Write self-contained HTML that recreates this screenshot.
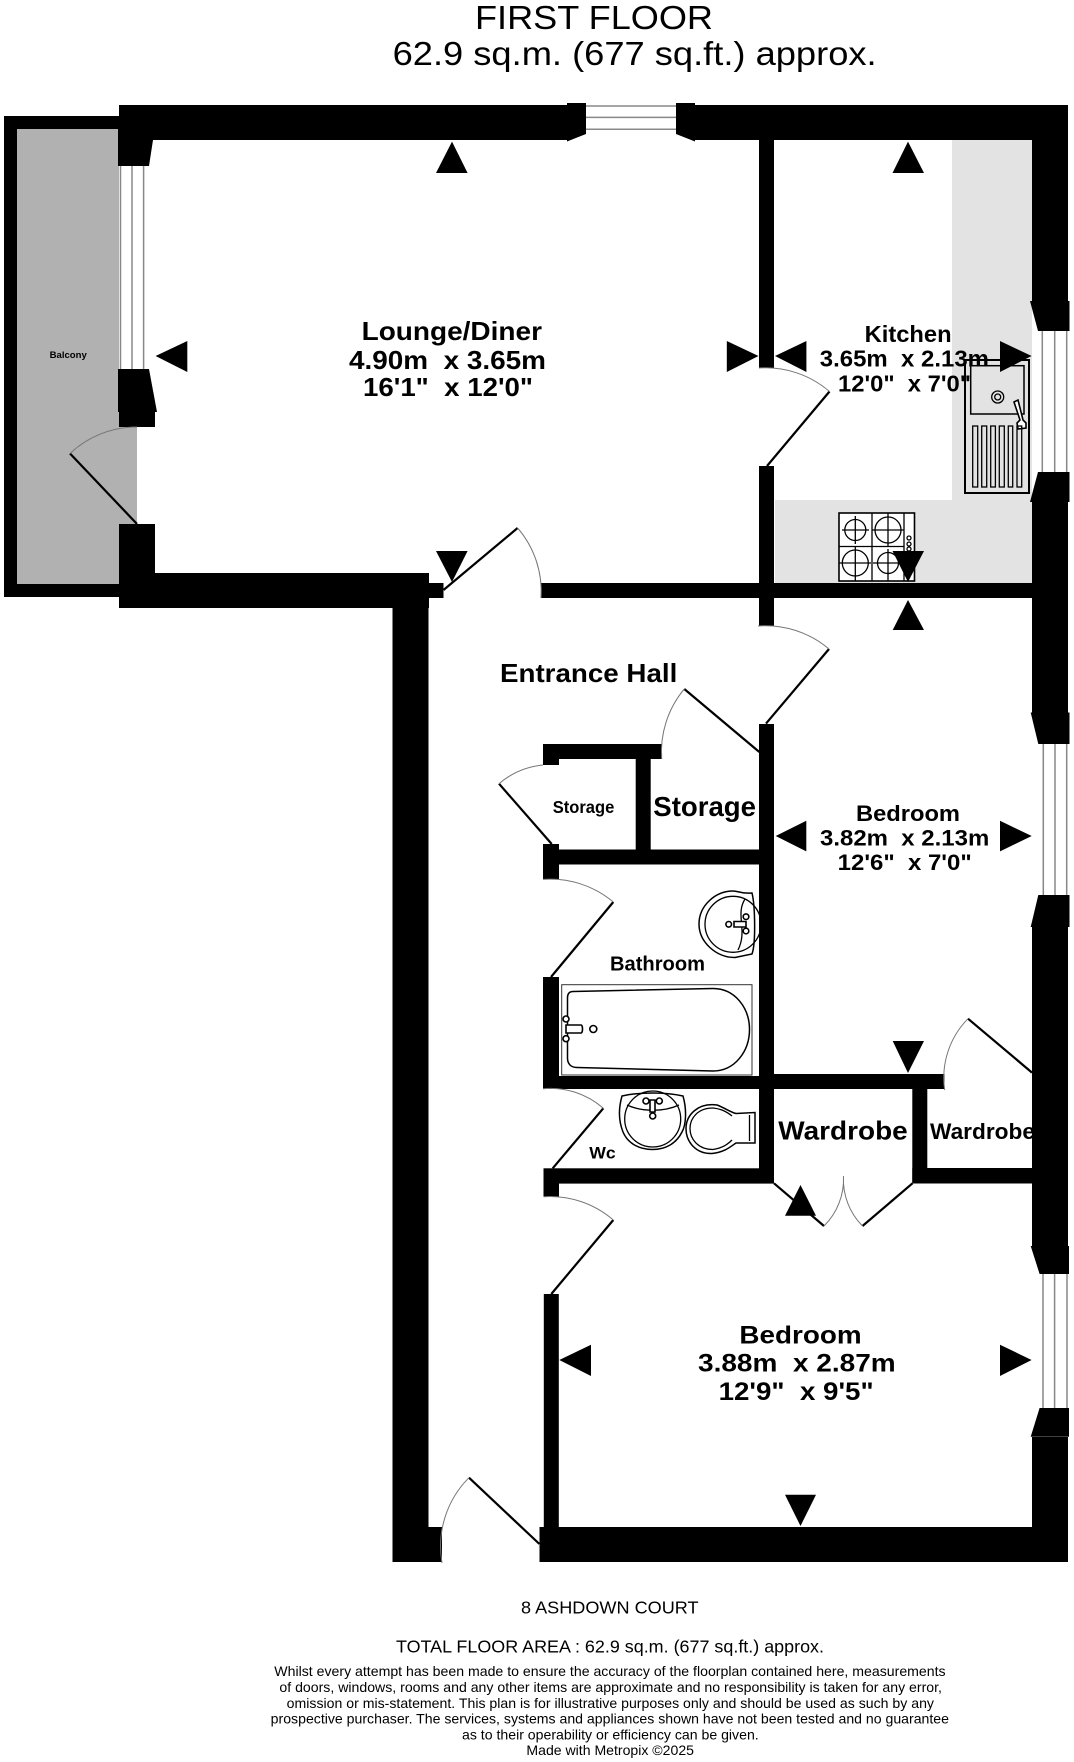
<!DOCTYPE html>
<html><head><meta charset="utf-8"><style>
html,body{margin:0;padding:0;background:#fff}
svg{display:block}
text{font-family:"Liberation Sans",sans-serif;fill:#000}
.b{font-weight:bold}
.arc{fill:none;stroke:#777;stroke-width:1}
.leaf{stroke:#000;stroke-width:2.200;fill:none}
.win{stroke:#888;stroke-width:1.500;fill:none}
.fx{fill:#fff;stroke:#000;stroke-width:1.600}
.fxn{fill:none;stroke:#000;stroke-width:1.300}
</style></head><body>
<svg width="1074" height="1762" viewBox="0 0 1074 1762" xmlns="http://www.w3.org/2000/svg">
<rect width="1074" height="1762" fill="#fff"/>

<!-- fills -->
<rect x="17" y="129" width="102" height="455" fill="#b1b1b1"/>
<rect x="119" y="427" width="18" height="97" fill="#b1b1b1"/>
<path d="M952 140H1032V583H775V500H952Z" fill="#e3e3e3"/>
<rect x="1032" y="331" width="36" height="141" fill="#fff"/>

<!-- text under walls -->
<text class="b" x="930" y="1139" font-size="22" textLength="105" lengthAdjust="spacingAndGlyphs">Wardrobe</text>

<!-- walls -->
<g fill="#000">
<path d="M4 116H119V129H17V584H119V597H4Z"/>
<rect x="119" y="105" width="448" height="35"/>
<rect x="695" y="105" width="373" height="35"/>
<rect x="1032" y="105" width="36" height="196"/>
<rect x="1032" y="502" width="36" height="211"/>
<rect x="1032" y="927" width="36" height="319"/>
<rect x="1032" y="1437" width="36" height="125"/>
<rect x="759" y="140" width="15" height="228"/>
<rect x="759" y="466" width="15" height="160"/>
<rect x="759" y="724" width="15" height="459"/>
<rect x="541" y="583" width="491" height="15"/>
<rect x="119" y="524" width="36" height="84"/>
<rect x="155" y="573" width="274" height="35"/>
<rect x="428" y="583" width="15.500" height="15"/>
<rect x="392.500" y="608" width="36" height="954"/>
<rect x="428" y="1527" width="14" height="35"/>
<rect x="539.500" y="1527" width="528" height="35"/>
<rect x="119" y="412" width="36" height="15"/>
<!-- storage -->
<rect x="543" y="744" width="119" height="15"/>
<rect x="543" y="744" width="16" height="21"/>
<rect x="543" y="844" width="16" height="35.500"/>
<rect x="559" y="849.500" width="200" height="15"/>
<rect x="635.700" y="759" width="15" height="91"/>
<!-- bath / wc walls -->
<rect x="543" y="977" width="16" height="112"/>
<rect x="543" y="1076" width="216" height="13"/>
<rect x="759" y="1074" width="185.500" height="15"/>
<rect x="912.300" y="1089" width="15" height="94"/>
<rect x="912.300" y="1168" width="120" height="15.500"/>
<rect x="543.500" y="1168.300" width="230.500" height="15.300"/>
<rect x="543.500" y="1183" width="15.500" height="13.700"/>
<rect x="543.800" y="1294" width="15" height="240"/>
<!-- window jambs -->
<path d="M118 120L153 140L149 166H118Z"/>
<path d="M118 369H149L157 412H118Z"/>
<path d="M567 103H586V134L567 141.500Z"/>
<path d="M676 103H695V141.500L676 134Z"/>
<path d="M1030 301H1069.500V331H1038Z"/>
<path d="M1038 472H1069.500V502H1030Z"/>
<path d="M1030.700 712.500H1069.500V744H1038.300Z"/>
<path d="M1038.300 895H1069.500V927H1030.700Z"/>
<path d="M1030.700 1246H1069V1274H1039.600Z"/>
<path d="M1039.600 1408H1069V1436.700H1030.700Z"/>
</g>

<!-- windows -->
<g class="win">
<path d="M120.500 166V369M132 166V369M143.600 166V369"/>
<path d="M586 106H676M586 117.400H676M586 129.300H676"/>
<path d="M1042.300 331V472M1054.700 331V472M1066.700 331V472"/>
<path d="M1043.300 744V895M1055 744V895M1066.700 744V895"/>
<path d="M1043 1274V1408M1054.600 1274V1408M1067 1274V1408"/>
</g>

<!-- doors -->
<g>
<path class="leaf" d="M137 524L70 453.500"/><path class="arc" d="M70 453.500A97 97 0 0 1 137 427"/>
<path class="leaf" d="M443.500 590L517.600 528"/><path class="arc" d="M517.600 528A97 97 0 0 1 541 598"/>
<path class="leaf" d="M767 466L829.500 391.500"/><path class="arc" d="M829.500 391.500A98 98 0 0 0 759 368"/>
<path class="leaf" d="M766 723.600L829 649"/><path class="arc" d="M829 649A98 98 0 0 0 758 626"/>
<path class="leaf" d="M759.300 752L684.300 689"/><path class="arc" d="M684.300 689A98 98 0 0 0 661.700 759"/>
<path class="leaf" d="M551.700 844L499 783.700"/><path class="arc" d="M499 783.700A80 80 0 0 1 543 765"/>
<path class="leaf" d="M551 977L613.300 902"/><path class="arc" d="M613.300 902A98 98 0 0 0 543 879.400"/>
<path class="leaf" d="M552.700 1168.300L603.300 1108.300"/><path class="arc" d="M603.300 1108.300A80 80 0 0 0 543 1088.700"/>
<path class="leaf" d="M551.300 1294L613.300 1220"/><path class="arc" d="M613.300 1220A97 97 0 0 0 543.800 1196.700"/>
<path class="leaf" d="M539.400 1544L469 1477.700"/><path class="arc" d="M469 1477.700A97 97 0 0 0 442 1563"/>
<path class="leaf" d="M1032 1072.600L968 1018.700"/><path class="arc" d="M968 1018.700A84 84 0 0 0 944.700 1090"/>
<path class="leaf" d="M774 1183.300L824 1226"/><path class="arc" d="M824 1226A66 66 0 0 0 843.500 1176"/>
<path class="leaf" d="M912.500 1183.300L862.500 1226"/><path class="arc" d="M862.500 1226A66 66 0 0 1 843.500 1176"/>
</g>

<!-- kitchen fixtures -->
<rect x="839" y="513" width="75.500" height="68" fill="#fff" stroke="#000" stroke-width="1.600"/>
<g class="fxn">
<path d="M872 513V581M904 513V581M839 546.500H904"/>
<circle cx="855.300" cy="530" r="10.500"/><circle cx="888" cy="530" r="13"/>
<circle cx="855.300" cy="563" r="13"/><circle cx="888" cy="563" r="10.500"/>
<path d="M855.300 516V544M842 530H869M888 513V546M872 530H904M855.300 547V581M839 563H871M888 549V581M873 563H903"/>
<circle cx="909" cy="538" r="2"/><circle cx="909" cy="544" r="2"/><circle cx="909" cy="549" r="2"/>
</g>
<text class="b" x="864.600" y="342" font-size="23.500" textLength="87" lengthAdjust="spacingAndGlyphs">Kitchen</text>
<text class="b" x="819.800" y="366.500" font-size="23.500" textLength="169.200" lengthAdjust="spacingAndGlyphs" xml:space="preserve">3.65m  x 2.13m</text>
<text class="b" x="838" y="391.400" font-size="23.500" textLength="133" lengthAdjust="spacingAndGlyphs" xml:space="preserve">12'0"  x 7'0"</text>
<path d="M965 360H1029V493H965Z" fill="none" stroke="#000" stroke-width="2"/>
<rect x="970.700" y="365.700" width="53.300" height="48.300" fill="none" stroke="#000" stroke-width="1.500"/>
<circle cx="997.700" cy="397" r="6" class="fxn"/><circle cx="997.700" cy="397" r="3" class="fxn"/>
<path d="M1014 402L1018 400L1023 420L1026 423V428L1018 429L1017 423L1020 420Z" class="fx" stroke-width="1.200"/>
<g class="fxn">
<rect x="972.700" y="426" width="5" height="61"/><rect x="981.700" y="426" width="5" height="61"/><rect x="990.700" y="426" width="4.700" height="61"/>
<rect x="999.300" y="426" width="5" height="61"/><rect x="1008.300" y="426" width="4.400" height="61"/><rect x="1017" y="426" width="4.700" height="61"/>
</g>

<!-- bathroom fixtures -->
<rect x="561.700" y="984.700" width="190.300" height="90.300" fill="#fff" stroke="#333" stroke-width="1"/>
<path d="M573 991.500L713 988.500C735 988.500 749.500 1008 749.500 1029.500C749.500 1051 735 1071 713 1071L577 1067.500C571 1067.500 567.500 1064 567.500 1058V998C567.500 994 569 991.500 573 991.500Z" fill="#fff" stroke="#000" stroke-width="1.500"/>
<circle cx="566" cy="1019" r="3" class="fx" stroke-width="1.200"/><circle cx="566" cy="1038.700" r="3" class="fx" stroke-width="1.200"/>
<path d="M566 1025H581C583 1025 583 1033 581 1033H566Z" class="fx" stroke-width="1.200"/>
<circle cx="593.300" cy="1029" r="3.500" class="fx" stroke-width="1.200"/>
<path d="M752 893C755 905 756 943 752 954L735 957.500C716 957.500 699 942 699 924C699 906 715 891 733 891C738 891 742 894 752 893Z" fill="#fff" stroke="#000" stroke-width="1.500"/>
<circle cx="733" cy="924.300" r="28" class="fxn"/>
<path d="M745 899C735 915 748 930 738 950" class="fxn" stroke-width="1"/>
<circle cx="746" cy="916.700" r="2.800" class="fx" stroke-width="1.200"/><circle cx="746" cy="931" r="2.800" class="fx" stroke-width="1.200"/>
<path d="M734 921.500H746V927H734Z" class="fx" stroke-width="1.200"/><circle cx="728.700" cy="924.300" r="2.800" class="fx" stroke-width="1.200"/>
<text class="b" x="610" y="970.700" font-size="20" textLength="95" lengthAdjust="spacingAndGlyphs">Bathroom</text>

<!-- wc fixtures -->
<path d="M622 1096C640 1092 665 1092 683 1096C687 1110 686 1125 682 1132C676 1144 665 1149.500 652.500 1149.500C640 1149.500 628 1144 623 1132C619 1122 618 1110 622 1096Z" fill="#fff" stroke="#000" stroke-width="1.500"/>
<circle cx="652.700" cy="1119" r="28" class="fxn"/>
<path d="M627 1105C642 1112 664 1112 679 1105" class="fxn" stroke-width="1"/>
<circle cx="646" cy="1101" r="3" class="fx" stroke-width="1.200"/><circle cx="659.300" cy="1101" r="3" class="fx" stroke-width="1.200"/>
<path d="M650 1100H655V1112H650Z" class="fx" stroke-width="1.200"/><circle cx="652.700" cy="1116" r="3" class="fx" stroke-width="1.200"/>
<path d="M717 1105C725 1108 730 1112 736 1113.500L755 1112.500V1143L736 1143C730 1147 725 1152 712 1153.500C696 1154 686 1142 686 1128.500C686 1115 698 1102.500 717 1105Z" fill="#fff" stroke="#000" stroke-width="1.500"/>
<path d="M749.500 1115V1141" class="fxn" stroke-width="1"/>
<path d="M713 1108C698 1108 690 1118 690 1128.500C690 1139 698 1149.500 713 1149.500" class="fxn" stroke-width="1"/>
<path d="M713 1108C722 1109 727 1112 732 1116M713 1149.500C722 1148 727 1145 732 1140" class="fxn" stroke-width="1"/>
<text class="b" x="589.300" y="1158.300" font-size="17" textLength="26.400" lengthAdjust="spacingAndGlyphs">Wc</text>

<!-- triangles -->
<g fill="#000">
<path d="M452 141.600L467.600 173H436Z"/>
<path d="M155.600 356L187.300 341V372Z"/>
<path d="M452 582L436 551H467.600Z"/>
<path d="M758.500 356L726.800 341V372Z"/>
<path d="M908 141.600L924 173H892.500Z"/>
<path d="M775 356L806.400 341V372Z"/>
<path d="M1031.600 356L1000 341V372Z"/>
<path d="M908 582L892.500 551H924Z"/>
<path d="M908 600L924 630H892.700Z"/>
<path d="M775.700 836L806.300 820.800V851.400Z"/>
<path d="M1031.700 836L1000 820.800V851.400Z"/>
<path d="M908 1073L892.700 1041H924Z"/>
<path d="M800.500 1185L816 1215.700H785Z"/>
<path d="M800.500 1526L785 1494.700H816Z"/>
<path d="M559.300 1360L591 1344.700V1376Z"/>
<path d="M1031.600 1360L1000 1344.700V1376Z"/>
</g>

<!-- labels -->
<text x="475" y="29" font-size="33" textLength="238" lengthAdjust="spacingAndGlyphs">FIRST FLOOR</text>
<text x="392.600" y="65" font-size="33" textLength="484" lengthAdjust="spacingAndGlyphs">62.9 sq.m. (677 sq.ft.) approx.</text>
<text class="b" x="49.600" y="358" font-size="9.500" textLength="37.200" lengthAdjust="spacingAndGlyphs">Balcony</text>

<text class="b" x="361.600" y="340" font-size="26" textLength="180.400" lengthAdjust="spacingAndGlyphs">Lounge/Diner</text>
<text class="b" x="349" y="369" font-size="26" textLength="197" lengthAdjust="spacingAndGlyphs" xml:space="preserve">4.90m  x 3.65m</text>
<text class="b" x="363" y="396" font-size="26" textLength="170" lengthAdjust="spacingAndGlyphs" xml:space="preserve">16'1"  x 12'0"</text>

<text class="b" x="500" y="682" font-size="26" textLength="177.300" lengthAdjust="spacingAndGlyphs">Entrance Hall</text>
<text class="b" x="552.700" y="813" font-size="17.500" textLength="61.600" lengthAdjust="spacingAndGlyphs">Storage</text>
<text class="b" x="653.300" y="816" font-size="28" textLength="102.700" lengthAdjust="spacingAndGlyphs">Storage</text>

<text class="b" x="856" y="821" font-size="22" textLength="104" lengthAdjust="spacingAndGlyphs">Bedroom</text>
<text class="b" x="820" y="845.700" font-size="22" textLength="169.300" lengthAdjust="spacingAndGlyphs" xml:space="preserve">3.82m  x 2.13m</text>
<text class="b" x="837.700" y="870" font-size="22" textLength="134" lengthAdjust="spacingAndGlyphs" xml:space="preserve">12'6"  x 7'0"</text>

<text class="b" x="778.300" y="1139.600" font-size="26" textLength="129.400" lengthAdjust="spacingAndGlyphs">Wardrobe</text>

<text class="b" x="739.400" y="1343.300" font-size="25" textLength="122.200" lengthAdjust="spacingAndGlyphs">Bedroom</text>
<text class="b" x="698" y="1371.700" font-size="25" textLength="197.700" lengthAdjust="spacingAndGlyphs" xml:space="preserve">3.88m  x 2.87m</text>
<text class="b" x="718.600" y="1400" font-size="25" textLength="155" lengthAdjust="spacingAndGlyphs" xml:space="preserve">12'9"  x 9'5"</text>

<!-- footer -->
<text x="521" y="1613.300" font-size="17.500" textLength="177.600" lengthAdjust="spacingAndGlyphs">8 ASHDOWN COURT</text>
<text x="396" y="1652.700" font-size="17.500" textLength="428" lengthAdjust="spacingAndGlyphs">TOTAL FLOOR AREA : 62.9 sq.m. (677 sq.ft.) approx.</text>
<g font-size="14">
<text x="274.300" y="1676" textLength="671.300" lengthAdjust="spacingAndGlyphs">Whilst every attempt has been made to ensure the accuracy of the floorplan contained here, measurements</text>
<text x="279.400" y="1692" textLength="662.600" lengthAdjust="spacingAndGlyphs">of doors, windows, rooms and any other items are approximate and no responsibility is taken for any error,</text>
<text x="286.700" y="1708" textLength="647.300" lengthAdjust="spacingAndGlyphs">omission or mis-statement. This plan is for illustrative purposes only and should be used as such by any</text>
<text x="270.700" y="1723.700" textLength="678.300" lengthAdjust="spacingAndGlyphs">prospective purchaser. The services, systems and appliances shown have not been tested and no guarantee</text>
<text x="462" y="1739.300" textLength="296.700" lengthAdjust="spacingAndGlyphs">as to their operability or efficiency can be given.</text>
<text x="526.400" y="1755" textLength="167.600" lengthAdjust="spacingAndGlyphs">Made with Metropix ©2025</text>
</g>
</svg>
</body></html>
